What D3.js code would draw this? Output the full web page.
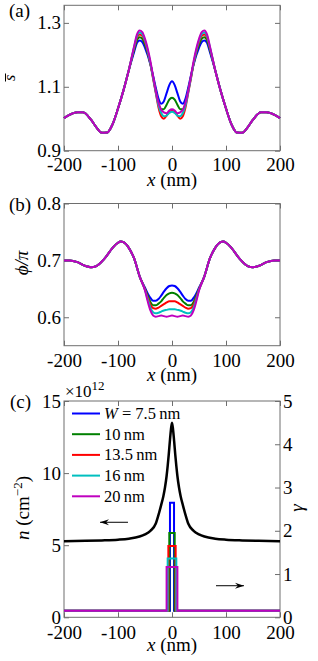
<!DOCTYPE html>
<html><head><meta charset="utf-8">
<script src="https://cdn.jsdelivr.net/npm/d3@7"></script>
<style>body{margin:0;background:#fff}</style>
</head><body><svg id="c" width="318" height="661"></svg>
<script>
// ---------- data ----------
const xTicks = [-200, -100, 0, 100, 200];
const seriesNames = ["W = 7.5 nm", "10 nm", "13.5 nm", "16 nm", "20 nm"];
const colors = ["#0000ff", "#008000", "#ff0000", "#00bfbf", "#bf00bf"];

// panel (a): s-bar
const sX = [-200,-190,-175,-165,-150,-140,-130,-120,-110,-100,-90,-80,-70,-65,-60,-55,-50,-40,-35,-30,-25,-20,-15,-10,-5,0,5,10,15,20,25,30,35,40,50,55,60,65,70,80,90,100,110,120,130,140,150,165,175,190,200];
const sBlue = [1.002,1.012,1.02,1.02,0.997,0.973,0.956,0.957,0.983,1.032,1.088,1.152,1.21,1.237,1.245,1.24,1.222,1.17,1.135,1.097,1.063,1.047,1.055,1.08,1.105,1.117,1.105,1.08,1.055,1.047,1.063,1.097,1.135,1.17,1.222,1.24,1.245,1.237,1.21,1.152,1.088,1.032,0.983,0.957,0.956,0.973,0.997,1.02,1.02,1.012,1.002];
const sGreen = [1.002,1.012,1.02,1.02,0.997,0.973,0.956,0.957,0.983,1.032,1.088,1.152,1.217,1.245,1.255,1.25,1.232,1.172,1.13,1.087,1.048,1.03,1.03,1.044,1.06,1.066,1.06,1.044,1.03,1.03,1.048,1.087,1.13,1.172,1.232,1.25,1.255,1.245,1.217,1.152,1.088,1.032,0.983,0.957,0.956,0.973,0.997,1.02,1.02,1.012,1.002];
const sRed = [1.002,1.012,1.02,1.02,0.997,0.973,0.956,0.957,0.983,1.032,1.088,1.152,1.222,1.253,1.264,1.259,1.24,1.172,1.125,1.08,1.035,1.008,1.0,1.01,1.021,1.025,1.021,1.01,1.0,1.008,1.035,1.08,1.125,1.172,1.24,1.259,1.264,1.253,1.222,1.152,1.088,1.032,0.983,0.957,0.956,0.973,0.997,1.02,1.02,1.012,1.002];
const sCyan = [1.002,1.012,1.02,1.02,0.997,0.973,0.956,0.957,0.983,1.032,1.088,1.152,1.225,1.258,1.27,1.265,1.245,1.174,1.128,1.083,1.042,1.018,1.008,1.01,1.018,1.022,1.018,1.01,1.008,1.018,1.042,1.083,1.128,1.174,1.245,1.265,1.27,1.258,1.225,1.152,1.088,1.032,0.983,0.957,0.956,0.973,0.997,1.02,1.02,1.012,1.002];
const sMagenta = [1.002,1.012,1.02,1.02,0.997,0.973,0.956,0.957,0.983,1.032,1.088,1.152,1.228,1.263,1.276,1.271,1.25,1.18,1.133,1.087,1.05,1.028,1.02,1.017,1.026,1.03,1.026,1.017,1.02,1.028,1.05,1.087,1.133,1.18,1.25,1.271,1.276,1.263,1.228,1.152,1.088,1.032,0.983,0.957,0.956,0.973,0.997,1.02,1.02,1.012,1.002];
const sTicks = [0.9, 1.1, 1.3];

// panel (b): phi/pi
const pX = [-200,-190,-175,-160,-150,-140,-125,-110,-100,-95,-90,-80,-70,-60,-50,-45,-40,-35,-30,-25,-20,-15,-10,-5,0,5,10,15,20,25,30,35,40,45,50,60,70,80,90,95,100,110,125,140,150,160,175,190,200];
const pBlue = [0.700,0.700,0.697,0.690,0.688,0.690,0.703,0.722,0.731,0.733,0.732,0.722,0.703,0.672,0.652,0.642,0.634,0.629,0.629,0.632,0.638,0.645,0.651,0.655,0.656,0.655,0.651,0.645,0.638,0.632,0.629,0.629,0.634,0.642,0.652,0.672,0.703,0.722,0.732,0.733,0.731,0.722,0.703,0.690,0.688,0.690,0.697,0.700,0.700];
const pGreen = [0.700,0.700,0.697,0.690,0.688,0.690,0.703,0.722,0.731,0.733,0.732,0.722,0.703,0.672,0.650,0.638,0.627,0.621,0.621,0.624,0.628,0.634,0.639,0.642,0.643,0.642,0.639,0.634,0.628,0.624,0.621,0.621,0.627,0.638,0.650,0.672,0.703,0.722,0.732,0.733,0.731,0.722,0.703,0.690,0.688,0.690,0.697,0.700,0.700];
const pRed = [0.700,0.700,0.697,0.690,0.688,0.690,0.703,0.722,0.731,0.733,0.732,0.722,0.703,0.672,0.649,0.635,0.622,0.616,0.615,0.617,0.620,0.623,0.626,0.628,0.628,0.628,0.626,0.623,0.620,0.617,0.615,0.616,0.622,0.635,0.649,0.672,0.703,0.722,0.732,0.733,0.731,0.722,0.703,0.690,0.688,0.690,0.697,0.700,0.700];
const pCyan = [0.700,0.700,0.697,0.690,0.688,0.690,0.703,0.722,0.731,0.733,0.732,0.722,0.703,0.672,0.648,0.632,0.617,0.609,0.607,0.608,0.610,0.612,0.613,0.614,0.614,0.614,0.613,0.612,0.610,0.608,0.607,0.609,0.617,0.632,0.648,0.672,0.703,0.722,0.732,0.733,0.731,0.722,0.703,0.690,0.688,0.690,0.697,0.700,0.700];
const pMagenta = [0.700,0.700,0.697,0.690,0.688,0.690,0.703,0.722,0.731,0.733,0.732,0.722,0.703,0.672,0.647,0.628,0.612,0.603,0.601,0.602,0.603,0.602,0.601,0.602,0.603,0.602,0.601,0.602,0.603,0.602,0.601,0.603,0.612,0.628,0.647,0.672,0.703,0.722,0.732,0.733,0.731,0.722,0.703,0.690,0.688,0.690,0.697,0.700,0.700];
const pTicks = [0.6, 0.7, 0.8];

// panel (c): density n (x10^12 cm^-2) and gamma steps
const nX = [-200,-160,-130,-100,-80,-60,-50,-40,-30,-25,-20,-16,-13,-10,-8,-6,-4,-2,0,2,4,6,8,10,13,16,20,25,30,40,50,60,80,100,130,160,200];
const nVal = [5.28,5.3,5.33,5.38,5.45,5.6,5.75,6.0,6.5,7.1,7.8,8.4,9.0,9.8,10.5,11.3,12.2,13.0,13.5,13.0,12.2,11.3,10.5,9.8,9.0,8.4,7.8,7.1,6.5,6.0,5.75,5.6,5.45,5.38,5.33,5.3,5.28];
const widths = [7.5, 10, 13.5, 16, 20];
const gammaPeak = [2.65, 1.95, 1.65, 1.36, 1.16];
const gammaBase = 0.15;
const nTicks = [0, 5, 10, 15];
const gTicks = [0, 1, 2, 3, 4, 5];

// ---------- drawing ----------
const FONT = '"Liberation Serif"';
const svg = d3.select("#c");
const frameCol = "#6e6e6e";
const X0 = 64, X1 = 280;
const x = d3.scaleLinear().domain([-200, 200]).range([X0, X1]);

function txt(sel) { return sel.style("font-family", FONT); }

function styleAxis(g) {
  g.attr("font-family", null);
  g.select(".domain").remove();
  g.selectAll(".tick line").attr("stroke", frameCol);
  g.selectAll(".tick text").attr("font-size", 19).attr("fill", "#000").style("font-family", FONT);
}

function frame(y0, y1, yScale, yTicks, fmt, xLabPad, mirrorY) {
  svg.append("g").attr("transform", `translate(0,${y0})`)
    .call(d3.axisBottom(x).tickValues(xTicks).tickSize(-5).tickPadding(xLabPad).tickFormat(d => String(d)))
    .call(styleAxis);
  svg.append("g").attr("transform", `translate(0,${y1})`)
    .call(d3.axisTop(x).tickValues(xTicks).tickSize(-5).tickFormat(""))
    .call(styleAxis);
  svg.append("g").attr("transform", `translate(${X0},0)`)
    .call(d3.axisLeft(yScale).tickValues(yTicks).tickSize(-5).tickPadding(3).tickFormat(fmt))
    .call(styleAxis);
  if (mirrorY) {
    svg.append("g").attr("transform", `translate(${X1},0)`)
      .call(d3.axisRight(yScale).tickValues(yTicks).tickSize(-5).tickFormat(""))
      .call(styleAxis);
  }
  svg.append("rect").attr("x", X0).attr("y", y1).attr("width", X1 - X0).attr("height", y0 - y1)
    .attr("fill", "none").attr("stroke", frameCol).attr("stroke-width", 1);
}

function xLabel(yb) {
  const t = txt(svg.append("text")).attr("x", 172).attr("y", yb).attr("text-anchor", "middle").attr("font-size", 19);
  t.append("tspan").attr("font-style", "italic").text("x");
  t.append("tspan").text(" (nm)");
}

const line = d3.line().curve(d3.curveMonotoneX);

// ----- panel (a)
const ya = d3.scaleLinear().domain([0.9, 1.355]).range([150.7, 5.3]);
frame(150.7, 5.3, ya, sTicks, d3.format(".1f"), 6.5, true);
[sBlue, sGreen, sRed, sCyan, sMagenta].forEach((s, i) => {
  svg.append("path").attr("d", line(sX.map((xv, j) => [x(xv), ya(s[j])])))
    .attr("fill", "none").attr("stroke", colors[i]).attr("stroke-width", 2).attr("stroke-linejoin", "round");
});
xLabel(185.5);
txt(svg.append("text")).attr("x", 9).attr("y", 17).attr("font-size", 19).text("(a)");
{
  const g = svg.append("g").attr("transform", "translate(15,78) rotate(-90)");
  txt(g.append("text")).attr("x", 0).attr("y", 0).attr("text-anchor", "middle").attr("font-size", 16).attr("font-style", "italic").text("s");
  g.append("line").attr("x1", -3.5).attr("x2", 4.5).attr("y1", -9.5).attr("y2", -9.5).attr("stroke", "#000").attr("stroke-width", 1);
}

// ----- panel (b)
const yb = d3.scaleLinear().domain([0.55, 0.8]).range([345.7, 203.5]);
frame(345.7, 203.5, yb, pTicks, d3.format(".1f"), 8, true);
[pBlue, pGreen, pRed, pCyan, pMagenta].forEach((s, i) => {
  svg.append("path").attr("d", line(pX.map((xv, j) => [x(xv), yb(s[j])])))
    .attr("fill", "none").attr("stroke", colors[i]).attr("stroke-width", 2).attr("stroke-linejoin", "round");
});
xLabel(380.5);
txt(svg.append("text")).attr("x", 9).attr("y", 211).attr("font-size", 19).text("(b)");
txt(svg.append("text")).attr("transform", "translate(28,263) rotate(-90)").attr("text-anchor", "middle")
  .attr("font-size", 19).attr("font-style", "italic").text("\u03D5/\u03C0");

// ----- panel (c)
const yn = d3.scaleLinear().domain([0, 15]).range([617.3, 401]);
const yg = d3.scaleLinear().domain([0, 5]).range([617.3, 401]);
frame(617.3, 401, yn, nTicks, d3.format("d"), 8, false);
svg.append("g").attr("transform", `translate(${X1},0)`)
  .call(d3.axisRight(yg).tickValues(gTicks).tickSize(-5).tickPadding(3).tickFormat(d3.format("d")))
  .call(styleAxis);

widths.forEach((w, i) => {
  const pts = [[-200, gammaBase], [-w / 2, gammaBase], [-w / 2, gammaPeak[i]], [w / 2, gammaPeak[i]], [w / 2, gammaBase], [200, gammaBase]];
  svg.append("path").attr("d", d3.line()(pts.map(p => [x(p[0]), yg(p[1])])))
    .attr("fill", "none").attr("stroke", colors[i]).attr("stroke-width", 2);
});
svg.append("path").attr("d", line(nX.map((xv, j) => [x(xv), yn(nVal[j])])))
  .attr("fill", "none").attr("stroke", "#000").attr("stroke-width", 2.5).attr("stroke-linejoin", "round");

// legend
seriesNames.forEach((name, i) => {
  const yy = 413.5 + i * 20.7;
  svg.append("line").attr("x1", 72).attr("x2", 100).attr("y1", yy).attr("y2", yy)
    .attr("stroke", colors[i]).attr("stroke-width", 2);
  const t = txt(svg.append("text")).attr("x", 104).attr("y", yy + 5.5).attr("font-size", 16.5);
  if (i === 0) {
    t.append("tspan").attr("font-style", "italic").text("W");
    t.append("tspan").text(" = 7.5\u2009nm");
  } else {
    t.text(name.replace(" ", "\u2009"));
  }
});

// arrows
function arrow(xa, xb, yv, ys) {
  const y = ys(yv);
  svg.append("line").attr("x1", x(xa)).attr("x2", x(xb)).attr("y1", y).attr("y2", y).attr("stroke", "#000").attr("stroke-width", 1);
  const dir = Math.sign(x(xb) - x(xa));
  const tip = x(xb);
  svg.append("path").attr("d", `M${tip},${y} L${tip - dir * 9},${y - 3} L${tip - dir * 6},${y} L${tip - dir * 9},${y + 3} Z`).attr("fill", "#000");
}
arrow(-81.5, -133.3, 6.59, yn);
arrow(81.5, 133.3, 0.73, yg);

xLabel(651);
txt(svg.append("text")).attr("x", 10).attr("y", 408).attr("font-size", 19).text("(c)");
{
  const t = txt(svg.append("text")).attr("x", 65).attr("y", 397).attr("font-size", 17);
  t.append("tspan").text("\u00D710");
  t.append("tspan").attr("font-size", 13).attr("dy", -7).text("12");
}
{
  const t = txt(svg.append("text")).attr("transform", "translate(29,508) rotate(-90)").attr("text-anchor", "middle").attr("font-size", 19);
  t.append("tspan").attr("font-style", "italic").text("n");
  t.append("tspan").text(" (cm");
  t.append("tspan").attr("font-size", 13).attr("dy", -7).text("\u22122");
  t.append("tspan").attr("dy", 7).text(")");
}
txt(svg.append("text")).attr("transform", "translate(303,508) rotate(-90)").attr("text-anchor", "middle")
  .attr("font-size", 19).attr("font-style", "italic").text("\u03B3");
</script></body></html>
